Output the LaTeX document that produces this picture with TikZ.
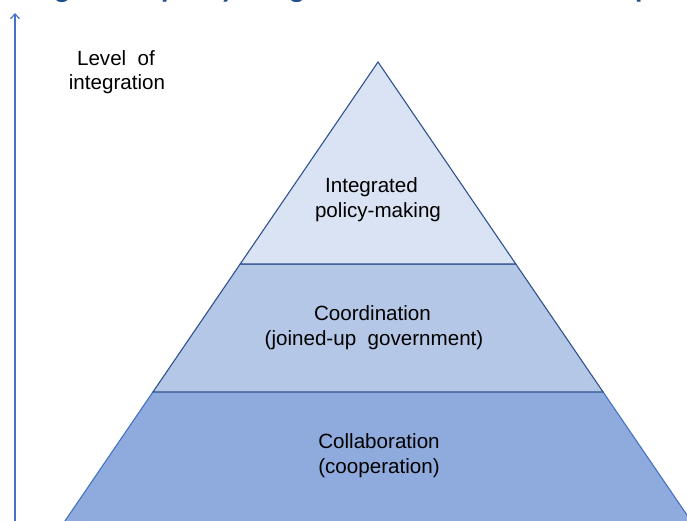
\documentclass[tikz,border=0pt]{standalone}
\usepackage{fontspec}
\setmainfont{Liberation Sans}
\newfontfamily\titlefont{Carlito}
\usetikzlibrary{arrows.meta}
\definecolor{tierA}{HTML}{DAE3F3}
\definecolor{tierB}{HTML}{B4C7E7}
\definecolor{tierC}{HTML}{8FAADC}
\definecolor{edgeDark}{HTML}{2F528F}
\definecolor{edgeMid}{HTML}{4472C4}
\definecolor{titleblue}{HTML}{1F4E8C}
\tikzset{
  tierline/.style={draw=edgeDark, line width=1.1pt, line join=miter},
  lowline/.style={draw=edgeMid, line width=1.1pt},
  lbl/.style={anchor=base, inner sep=0pt, font=\fontsize{20.6}{24}\selectfont},
  axisarrow/.style={draw=edgeMid, line width=1.2pt, -{Straight Barb[length=5pt,width=9pt]}},
}
\begin{document}
\begin{tikzpicture}[x=1pt,y=-1pt]
\useasboundingbox (0,0) rectangle (687,521);
\clip (0,0) rectangle (687,521);
% clipped title (only descenders visible)
\node[anchor=base west, inner sep=0pt, text=titleblue,
      font=\titlefont\bfseries\fontsize{30}{36}\selectfont] (title) at (21,-2)
  {Degrees of policy integration and coordination in practice};
% pyramid tiers
\fill[tierC] (152.9,392) -- (603.1,392) -- (697.2,530) -- (58.8,530) -- cycle;
\draw[lowline] (152.9,392) -- (58.8,530);
\draw[lowline] (603.1,392) -- (697.2,530);
\filldraw[fill=tierB, tierline] (240.2,264) -- (515.8,264) -- (603.1,392) -- (152.9,392) -- cycle;
\filldraw[fill=tierA, tierline] (378,62) -- (515.8,264) -- (240.2,264) -- cycle;
% axis arrow
\coordinate (axisfoot) at (15,530);
\coordinate (axistip) at (15,13);
\draw[axisarrow] (axisfoot) -- (axistip);
% labels
\node[lbl] (lev1) at (116,66) {Level\ \ of};
\node[lbl] (lev2) at (117,90) {integration};
\node[lbl] (top1) at (371.5,193) {Integrated};
\node[lbl] (top2) at (378,218) {policy-making};
\node[lbl] (mid1) at (372.5,320) {Coordination};
\node[lbl] (mid2) at (374,345) {(joined-up\ \ government)};
\node[lbl] (bot1) at (379,448) {Collaboration};
\node[lbl] (bot2) at (379,473) {(cooperation)};
\end{tikzpicture}
\end{document}
